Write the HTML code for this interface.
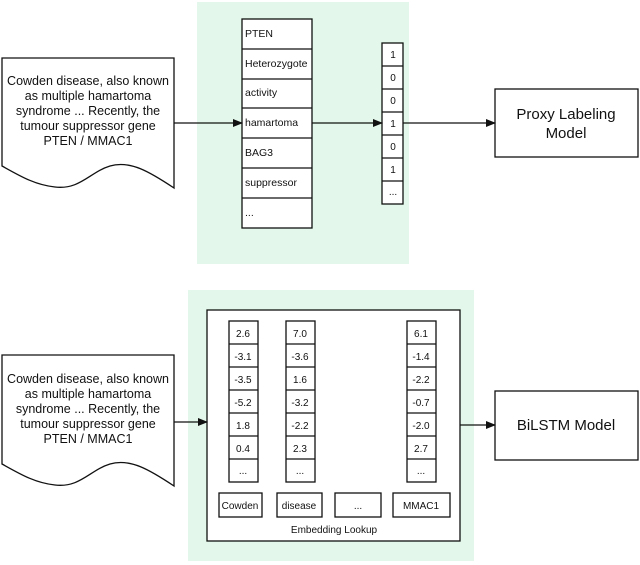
<!DOCTYPE html>
<html><head><meta charset="utf-8"><style>
html,body{margin:0;padding:0;background:#fff}
svg{display:block}
text{font-family:"Liberation Sans",sans-serif;fill:#111}
</style></head><body>
<svg width="640" height="565" viewBox="0 0 640 565" xmlns="http://www.w3.org/2000/svg">
<defs><marker id="a" markerWidth="10" markerHeight="8" refX="9" refY="4" orient="auto" markerUnits="userSpaceOnUse"><path d="M0,0 L10,4 L0,8 z" fill="#111"/></marker></defs>
<rect x="197" y="2" width="212" height="262" fill="#e3f8ea"/>
<rect x="188" y="290" width="286" height="271" fill="#e3f8ea"/>
<g stroke="#111" stroke-width="1.3" fill="#fff">
<path d="M2,58 H174 V188 C150,172 130,160 110,166 C90,172 80,190 55,187 C35,185 20,176 2,166 Z"/>
<path d="M2,355 H174 V486 C150,470 130,458 110,464 C90,470 80,488 55,485 C35,483 20,474 2,464 Z"/>
<rect x="242" y="19" width="70" height="209"/>
<path d="M242,49H312M242,79H312M242,108H312M242,138H312M242,168H312M242,198H312" fill="none"/>
<rect x="382" y="43" width="21" height="161"/>
<path d="M382,66H403M382,89H403M382,112H403M382,135H403M382,158H403M382,181H403" fill="none"/>
<rect x="495" y="89" width="143" height="68"/>
<rect x="207" y="310" width="253" height="231"/>
<rect x="229" y="321" width="29" height="161"/>
<path d="M229,344H258M229,367H258M229,390H258M229,413H258M229,436H258M229,459H258" fill="none"/>
<rect x="286" y="321" width="29" height="161"/>
<path d="M286,344H315M286,367H315M286,390H315M286,413H315M286,436H315M286,459H315" fill="none"/>
<rect x="407" y="321" width="29" height="161"/>
<path d="M407,344H436M407,367H436M407,390H436M407,413H436M407,436H436M407,459H436" fill="none"/>
<rect x="219" y="493" width="43" height="24"/>
<rect x="277" y="493" width="45" height="24"/>
<rect x="335" y="493" width="46" height="24"/>
<rect x="393" y="493" width="57" height="24"/>
<rect x="495" y="391" width="143" height="69"/>
</g>
<g stroke="#111" stroke-width="1.3" fill="none" marker-end="url(#a)">
<path d="M174,123H242"/>
<path d="M312,123H382"/>
<path d="M403,123H495"/>
<path d="M174,422H207"/>
<path d="M460,425H495"/>
</g>
<g font-size="12.5" text-anchor="middle">
<text x="88" y="85">Cowden disease, also known</text>
<text x="88" y="100">as multiple hamartoma</text>
<text x="88" y="115">syndrome ... Recently, the</text>
<text x="88" y="130">tumour suppressor gene</text>
<text x="88" y="145">PTEN / MMAC1</text>
<text x="88" y="383">Cowden disease, also known</text>
<text x="88" y="398">as multiple hamartoma</text>
<text x="88" y="413">syndrome ... Recently, the</text>
<text x="88" y="428">tumour suppressor gene</text>
<text x="88" y="443">PTEN / MMAC1</text>
</g>
<g font-size="10.5">
<text x="245" y="37">PTEN</text>
<text x="245" y="67">Heterozygote</text>
<text x="245" y="96">activity</text>
<text x="245" y="126">hamartoma</text>
<text x="245" y="156">BAG3</text>
<text x="245" y="186">suppressor</text>
<text x="245" y="216">...</text>
</g>
<g font-size="10" text-anchor="middle">
<text x="393" y="58">1</text><text x="393" y="81">0</text><text x="393" y="104">0</text><text x="393" y="127">1</text><text x="393" y="150">0</text><text x="393" y="173">1</text><text x="393" y="195">...</text>
<text x="243" y="337">2.6</text><text x="243" y="360">-3.1</text><text x="243" y="383">-3.5</text><text x="243" y="406">-5.2</text><text x="243" y="429">1.8</text><text x="243" y="452">0.4</text><text x="243" y="474">...</text>
<text x="300" y="337">7.0</text><text x="300" y="360">-3.6</text><text x="300" y="383">1.6</text><text x="300" y="406">-3.2</text><text x="300" y="429">-2.2</text><text x="300" y="452">2.3</text><text x="300" y="474">...</text>
<text x="421" y="337">6.1</text><text x="421" y="360">-1.4</text><text x="421" y="383">-2.2</text><text x="421" y="406">-0.7</text><text x="421" y="429">-2.0</text><text x="421" y="452">2.7</text><text x="421" y="474">...</text>
<text x="240" y="509">Cowden</text><text x="299" y="509">disease</text><text x="358" y="509">...</text><text x="421" y="509">MMAC1</text>
<text x="334" y="533">Embedding Lookup</text>
</g>
<g font-size="15" text-anchor="middle">
<text x="566" y="119">Proxy Labeling</text>
<text x="566" y="138">Model</text>
<text x="566" y="430">BiLSTM Model</text>
</g>
</svg>
</body></html>
